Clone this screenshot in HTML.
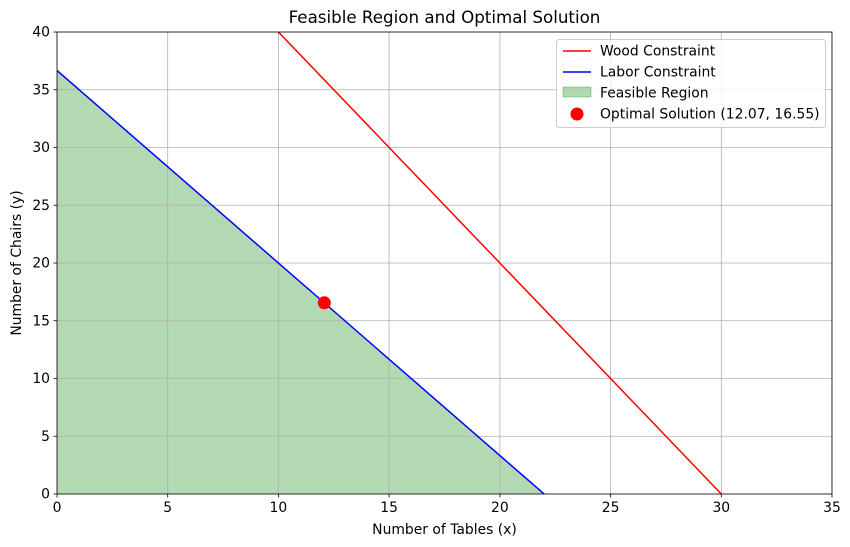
<!DOCTYPE html>
<html><head><meta charset="utf-8"><style>body{margin:0;background:#fff}svg{display:block;font-family:"DejaVu Sans","Liberation Sans",sans-serif}</style></head>
<body>
<svg width="850" height="547" viewBox="0 0 850 547" xmlns="http://www.w3.org/2000/svg">
<rect width="850" height="547" fill="#fff"/>
<defs><clipPath id="c"><rect x="57" y="32" width="775" height="462"/></clipPath></defs>
<g clip-path="url(#c)">
<polygon points="57,70.5 544.1,494 57,494" fill="#008000" fill-opacity="0.3"/>
<g stroke="#b0b0b0" stroke-width="0.8">
<line x1="57" y1="32" x2="57" y2="494"/><line x1="167.7" y1="32" x2="167.7" y2="494"/>
<line x1="278.4" y1="32" x2="278.4" y2="494"/><line x1="389.1" y1="32" x2="389.1" y2="494"/>
<line x1="499.9" y1="32" x2="499.9" y2="494"/><line x1="610.6" y1="32" x2="610.6" y2="494"/>
<line x1="721.3" y1="32" x2="721.3" y2="494"/><line x1="832" y1="32" x2="832" y2="494"/>
<line x1="57" y1="494" x2="832" y2="494"/><line x1="57" y1="436.25" x2="832" y2="436.25"/>
<line x1="57" y1="378.5" x2="832" y2="378.5"/><line x1="57" y1="320.75" x2="832" y2="320.75"/>
<line x1="57" y1="263" x2="832" y2="263"/><line x1="57" y1="205.25" x2="832" y2="205.25"/>
<line x1="57" y1="147.5" x2="832" y2="147.5"/><line x1="57" y1="89.75" x2="832" y2="89.75"/>
<line x1="57" y1="32" x2="832" y2="32"/>
</g>
<line x1="278.4" y1="32" x2="721.3" y2="494" stroke="#ff0000" stroke-width="1.5"/>
<line x1="57" y1="70.5" x2="544.1" y2="494" stroke="#0000ff" stroke-width="1.5"/>
<circle cx="324.3" cy="302.8" r="6.5" fill="#ff0000"/>
</g>
<rect x="57" y="32" width="775" height="462" fill="none" stroke="#000" stroke-width="0.8"/>
<g stroke="#000" stroke-width="0.8">
<line x1="57" y1="494" x2="57" y2="497.5"/><line x1="167.7" y1="494" x2="167.7" y2="497.5"/>
<line x1="278.4" y1="494" x2="278.4" y2="497.5"/><line x1="389.1" y1="494" x2="389.1" y2="497.5"/>
<line x1="499.9" y1="494" x2="499.9" y2="497.5"/><line x1="610.6" y1="494" x2="610.6" y2="497.5"/>
<line x1="721.3" y1="494" x2="721.3" y2="497.5"/><line x1="832" y1="494" x2="832" y2="497.5"/>
<line x1="53.5" y1="494" x2="57" y2="494"/><line x1="53.5" y1="436.25" x2="57" y2="436.25"/>
<line x1="53.5" y1="378.5" x2="57" y2="378.5"/><line x1="53.5" y1="320.75" x2="57" y2="320.75"/>
<line x1="53.5" y1="263" x2="57" y2="263"/><line x1="53.5" y1="205.25" x2="57" y2="205.25"/>
<line x1="53.5" y1="147.5" x2="57" y2="147.5"/><line x1="53.5" y1="89.75" x2="57" y2="89.75"/>
<line x1="53.5" y1="32" x2="57" y2="32"/>
</g>
<g font-size="13.9" fill="#000" text-anchor="middle">
<text x="57" y="512">0</text><text x="167.7" y="512">5</text><text x="278.4" y="512">10</text>
<text x="389.1" y="512">15</text><text x="499.9" y="512">20</text><text x="610.6" y="512">25</text>
<text x="721.3" y="512">30</text><text x="832" y="512">35</text>
</g>
<g font-size="13.9" fill="#000" text-anchor="end">
<text x="50" y="498.5">0</text><text x="50" y="440.75">5</text><text x="50" y="383">10</text>
<text x="50" y="325.25">15</text><text x="50" y="267.5">20</text><text x="50" y="209.75">25</text>
<text x="50" y="152">30</text><text x="50" y="94.25">35</text><text x="50" y="36.5">40</text>
</g>
<text x="444.5" y="534" font-size="13.9" text-anchor="middle">Number of Tables (x)</text>
<text x="21" y="263" font-size="13.9" text-anchor="middle" transform="rotate(-90 21 263)">Number of Chairs (y)</text>
<text x="444.5" y="23" font-size="16.7" text-anchor="middle">Feasible Region and Optimal Solution</text>
<rect x="556.5" y="39.5" width="269" height="88" rx="3" fill="#fff" fill-opacity="0.8" stroke="#ccc"/>
<line x1="563" y1="51" x2="591" y2="51" stroke="#ff0000" stroke-width="1.5"/>
<line x1="563" y1="72" x2="591" y2="72" stroke="#0000ff" stroke-width="1.5"/>
<rect x="563" y="87" width="28" height="10" fill="#008000" fill-opacity="0.3" stroke="#008000" stroke-opacity="0.3"/>
<circle cx="577" cy="114" r="6.5" fill="#ff0000"/>
<g font-size="13.9" fill="#000">
<text x="600" y="55.5">Wood Constraint</text>
<text x="600" y="76.5">Labor Constraint</text>
<text x="600" y="97.5">Feasible Region</text>
<text x="600" y="118.5">Optimal Solution (12.07, 16.55)</text>
</g>
</svg>
</body></html>
